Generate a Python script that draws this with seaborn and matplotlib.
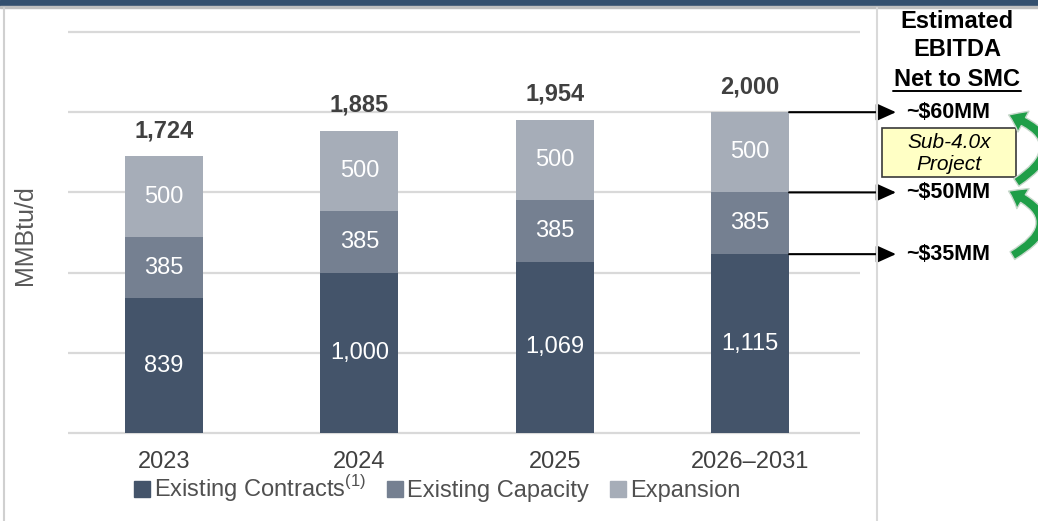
import matplotlib
matplotlib.use("Agg")
import matplotlib.pyplot as plt
from matplotlib.lines import Line2D
from matplotlib.patches import FancyArrowPatch, Rectangle
import seaborn as sns
import pandas as pd

# data
years = ["2023", "2024", "2025", "2026–2031"]
existing_contracts = [839, 1000, 1069, 1115]
existing_capacity = [385, 385, 385, 385]
expansion = [500, 500, 500, 500]
series_names = [r"Existing Contracts$^{\mathrm{(1)}}$", "Existing Capacity", "Expansion"]
ebitda_labels = ["~$35MM", "~$50MM", "~$60MM"]

colors = ["#44546A", "#758091", "#A6ADB8"]
text_grey = "#404040"

sns.set_theme(style="white")
plt.rcParams["font.family"] = ["Liberation Sans", "DejaVu Sans"]
plt.rcParams["mathtext.fontset"] = "custom"
plt.rcParams["mathtext.rm"] = "Liberation Sans"

df = pd.DataFrame({"year": years, "contracts": existing_contracts,
                   "capacity": existing_capacity, "expansion": expansion})
df["mid"] = df["contracts"] + df["capacity"]
df["total"] = df["mid"] + df["expansion"]

W, H = 1038, 521
def fx(px):
    return px / W
def fy(py):
    return 1 - py / H

fig = plt.figure(figsize=(W / 100, H / 100), dpi=100)
ax = fig.add_axes([fx(68), fy(434.6), fx(860) - fx(68), fy(30.4) - fy(434.6)])

bar_w = 0.4
# stacked bars: draw the cumulative heights back to front
for col, c in zip(["total", "mid", "contracts"], colors[::-1]):
    sns.barplot(data=df, x="year", y=col, color=c, width=bar_w, saturation=1,
                ax=ax, zorder=3, linewidth=0)

ax.set_ylim(-10, 2510)
ax.set_xlim(-0.4915, 3.563)
ax.set_yticks([0, 500, 1000, 1500, 2000, 2500])
ax.yaxis.grid(True, color="#D9D9D9", lw=1.6)
ax.set_axisbelow(True)
ax.tick_params(axis="y", length=0, labelleft=False)
ax.tick_params(axis="x", length=0, labelsize=17, colors=text_grey, pad=12)
ax.set_xlabel("")
ax.set_ylabel("")
sns.despine(ax=ax, left=True, bottom=True)

# segment labels
for i in range(len(years)):
    c0 = existing_contracts[i]
    c1 = c0 + existing_capacity[i]
    tot = c1 + expansion[i]
    ax.text(i, c0 / 2, f"{c0:,}", ha="center", va="center", color="white", fontsize=17, zorder=5)
    ax.text(i, c0 + existing_capacity[i] / 2, f"{existing_capacity[i]:,}", ha="center",
            va="center", color="white", fontsize=17, zorder=5)
    ax.text(i, c1 + expansion[i] / 2, f"{expansion[i]:,}", ha="center", va="center",
            color="white", fontsize=17, zorder=5)
    ax.annotate(f"{tot:,}", (i, tot), xytext=(0, 10), textcoords="offset points",
                ha="center", va="bottom", fontsize=17, fontweight="bold", color=text_grey)

fig.text(fx(25), fy(235), "MMBtu/d", rotation=90, ha="center", va="center",
         fontsize=18, color="#595959")

handles = [Line2D([], [], marker="s", ls="", color=c, markersize=11) for c in colors]
fig.legend(handles, series_names, loc="center", bbox_to_anchor=(fx(437), fy(489)), ncol=3,
           frameon=False, fontsize=17, handlelength=0.7, handletextpad=0.15,
           columnspacing=0.9, labelcolor="#505050")

# frame decoration
fig.patches.append(Rectangle((0, fy(6)), 1, fy(0) - fy(6), transform=fig.transFigure,
                             color="#34506F", zorder=1))
fig.patches.append(Rectangle((0, fy(8)), 1, fy(6) - fy(8), transform=fig.transFigure,
                             color="#BFBFBF", zorder=1))
fig.add_artist(Line2D([fx(4), fx(4)], [0, fy(8)], color="#D0D0D0", lw=1.5))
fig.add_artist(Line2D([fx(877), fx(877)], [0, fy(8)], color="#D9D9D9", lw=1.5))

# right panel
for txt, py in [("Estimated", 21), ("EBITDA", 50), ("Net to SMC", 79)]:
    fig.text(fx(957), fy(py), txt, ha="center", va="center", fontsize=17,
             fontweight="bold", color="black")
fig.add_artist(Line2D([fx(893), fx(1021)], [fy(91), fy(91)], color="black", lw=1.4))

# arrows from the last bar to the EBITDA estimates
last = len(years) - 1
levels = [df["contracts"].iloc[last], df["mid"].iloc[last], df["total"].iloc[last]]
for lvl, lab in zip(levels, ebitda_labels):
    ax.annotate("", xy=(fx(896), lvl), xycoords=("figure fraction", "data"),
                xytext=(last + bar_w / 2, lvl), textcoords="data",
                arrowprops=dict(arrowstyle="-|>,head_length=1.0,head_width=0.45",
                                color="black", lw=1.5, shrinkA=0, shrinkB=0),
                annotation_clip=False)
    ax.annotate(lab, xy=(fx(948), lvl), xycoords=("figure fraction", "data"),
                ha="center", va="center", fontsize=15.5, fontweight="bold",
                color="black", annotation_clip=False)

fig.patches.append(Rectangle((fx(882), fy(177)), fx(1016) - fx(882), fy(128) - fy(177),
                             transform=fig.transFigure, facecolor="#FFFFC5",
                             edgecolor="#3A3A3A", lw=1.2, zorder=2))
fig.text(fx(949), fy(142), "Sub-4.0x", ha="center", va="center", fontsize=15,
         fontstyle="italic", color="black", zorder=3)
fig.text(fx(949), fy(164), "Project", ha="center", va="center", fontsize=15,
         fontstyle="italic", color="black", zorder=3)

for (x0, y0), (x1, y1) in [((1010, 257), (1006, 190)), ((1014, 184), (1006, 114))]:
    arr = FancyArrowPatch((fx(x0), fy(y0)), (fx(x1), fy(y1)), transform=fig.transFigure,
                          connectionstyle="arc3,rad=1.0",
                          arrowstyle="simple,tail_width=0.5,head_width=1.3,head_length=0.9",
                          mutation_scale=13, facecolor="#1F9E48", edgecolor="#C8D8CC",
                          lw=1, zorder=4)
    fig.patches.append(arr)

fig.savefig("out.png", dpi=100)
